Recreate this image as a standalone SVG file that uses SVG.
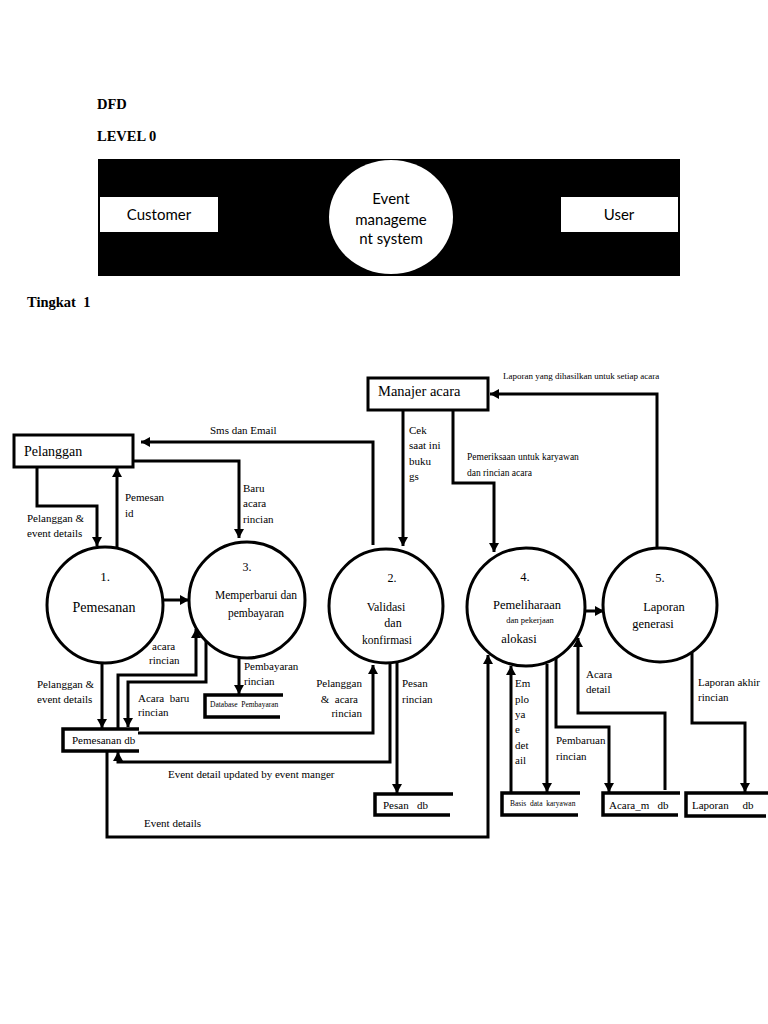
<svg xmlns="http://www.w3.org/2000/svg" width="768" height="1024" viewBox="0 0 768 1024">
<defs>
<marker id="ah" markerUnits="userSpaceOnUse" markerWidth="9" markerHeight="10" refX="9" refY="5" orient="auto">
<path d="M0,0 L9,5 L0,10 z" fill="#000"/>
</marker>
<style>
text{white-space:pre}
.t{font-family:"Liberation Serif","Times New Roman",serif;fill:#000}
.h{font-family:"Liberation Serif","Times New Roman",serif;font-weight:bold;font-size:14.5px}
.s{font-family:Lato,"Open Sans",sans-serif;font-size:15px;fill:#000}
.lb{font-size:11px}
.c{text-anchor:middle}
.ln{fill:none;stroke:#000;stroke-width:3}
.ar{marker-end:url(#ah)}
.bx{fill:#fff;stroke:#000;stroke-width:3}
.pc{fill:#fff;stroke:#000;stroke-width:3}
.ds{fill:none;stroke:#000;stroke-width:3.5}
</style>
</defs>
<rect width="768" height="1024" fill="#fff"/>

<g id="titles">
<text class="h" x="97" y="109">DFD</text>
<text class="h" x="97" y="141">LEVEL 0</text>
<text class="h" x="27" y="307">Tingkat  1</text>
</g>

<g id="level0">
<rect x="98" y="159" width="582" height="117" fill="#000"/>
<g id="l0-customer">
<rect x="100" y="197" width="118" height="35" fill="#fff"/>
<text class="s c" x="159" y="220">Customer</text>
</g>
<g id="l0-system">
<ellipse cx="391" cy="217" rx="62" ry="57" fill="#fff"/>
<text class="s c" x="391" y="204">Event</text>
<text class="s c" x="391" y="225">manageme</text>
<text class="s c" x="391" y="244">nt system</text>
</g>
<g id="l0-user">
<rect x="561" y="197" width="117" height="35" fill="#fff"/>
<text class="s c" x="619" y="220">User</text>
</g>
</g>

<g id="connectors">
<path class="ln ar" d="M373,545 V442 H141"/>
<path class="ln ar" d="M133,461 H239 V538"/>
<path class="ln ar" d="M37,467 V506 H97 V546"/>
<path class="ln ar" d="M117,547 V468"/>
<path class="ln ar" d="M403,410 V546"/>
<path class="ln ar" d="M453,410 V483 H494 V552"/>
<path class="ln ar" d="M657,547 V394 H490"/>
<path class="ln ar" d="M163,600 H189"/>
<path class="ln ar" d="M585,611 H604"/>
<path class="ln ar" d="M102,664 V728"/>
<path class="ln ar" d="M118,729 V675 H196 V629"/>
<path class="ln ar" d="M206,640 V682 H128 V727"/>
<path class="ln ar" d="M239,658 V694"/>
<path class="ln ar" d="M138,733 H373 V665"/>
<path class="ln ar" d="M390,662 V762 H118 V752"/>
<path class="ln ar" d="M397,662 V793"/>
<path class="ln ar" d="M107,751 V837 H488 V655"/>
<path class="ln ar" d="M511,793 V666"/>
<path class="ln ar" d="M547,664 V792"/>
<path class="ln ar" d="M556,658 V727 H609 V792"/>
<path class="ln ar" d="M665,790 V713 H578 V638"/>
<path class="ln ar" d="M692,653 V723 H745 V792"/>

<text class="t lb" x="210" y="434">Sms dan Email</text>
<text class="t lb" x="243" y="492">Baru</text>
<text class="t lb" x="243" y="507">acara</text>
<text class="t lb" x="243" y="523">rincian</text>
<text class="t lb" x="27" y="522">Pelanggan &amp;</text>
<text class="t lb" x="27" y="537">event details</text>
<text class="t lb" x="125" y="501">Pemesan</text>
<text class="t lb" x="125" y="517">id</text>
<text class="t lb" x="409" y="434">Cek</text>
<text class="t lb" x="409" y="449">saat ini</text>
<text class="t lb" x="409" y="465">buku</text>
<text class="t lb" x="409" y="480">gs</text>
<text class="t" font-size="9.5" x="467" y="460">Pemeriksaan untuk karyawan</text>
<text class="t" font-size="9.5" x="467" y="476">dan rincian acara</text>
<text class="t" font-size="9" x="503" y="379">Laporan yang dihasilkan untuk setiap acara</text>
<text class="t lb" x="152" y="650">acara</text>
<text class="t lb" x="149" y="664">rincian</text>
<text class="t lb" x="37" y="688">Pelanggan &amp;</text>
<text class="t lb" x="37" y="703">event details</text>
<text class="t lb" x="138" y="702">Acara  baru</text>
<text class="t lb" x="138" y="716">rincian</text>
<text class="t lb" x="244" y="670">Pembayaran</text>
<text class="t lb" x="244" y="685">rincian</text>
<text class="t lb" x="362" y="687" text-anchor="end">Pelanggan</text>
<text class="t lb" x="358" y="703" text-anchor="end">&amp;  acara</text>
<text class="t lb" x="362" y="717" text-anchor="end">rincian</text>
<text class="t lb" x="402" y="687">Pesan</text>
<text class="t lb" x="402" y="703">rincian</text>
<text class="t lb" x="168" y="778">Event detail updated by event manger</text>
<text class="t lb" x="144" y="827">Event details</text>
<text class="t lb" x="515" y="687">Em</text>
<text class="t lb" x="515" y="703">plo</text>
<text class="t lb" x="515" y="718">ya</text>
<text class="t lb" x="515" y="733">e</text>
<text class="t lb" x="515" y="749">det</text>
<text class="t lb" x="515" y="764">ail</text>
<text class="t lb" x="556" y="744">Pembaruan</text>
<text class="t lb" x="556" y="760">rincian</text>
<text class="t lb" x="586" y="678">Acara</text>
<text class="t lb" x="586" y="693">detail</text>
<text class="t lb" x="698" y="686">Laporan akhir</text>
<text class="t lb" x="698" y="701">rincian</text>
</g>

<g id="pelanggan">
<rect class="bx" x="14" y="435" width="119" height="32"/>
<text class="t" font-size="14" x="24" y="456">Pelanggan</text>
</g>
<g id="manajer-acara">
<rect class="bx" x="368" y="378" width="120" height="32"/>
<text class="t" font-size="14.5" x="378" y="396">Manajer acara</text>
</g>

<g id="p1">
<circle class="pc" cx="105" cy="605" r="58"/>
<text class="t c" font-size="13" x="105" y="581">1.</text>
<text class="t c" font-size="14" x="104" y="612">Pemesanan</text>
</g>
<g id="p3">
<circle class="pc" cx="247" cy="600" r="58"/>
<text class="t c" font-size="12" x="247" y="571">3.</text>
<text class="t c" font-size="11.5" x="256" y="599">Memperbarui dan</text>
<text class="t c" font-size="11.5" x="256" y="617">pembayaran</text>
</g>
<g id="p2">
<circle class="pc" cx="386" cy="606" r="57"/>
<text class="t c" font-size="12" x="392" y="582">2.</text>
<text class="t c" font-size="12" x="386" y="611">Validasi</text>
<text class="t c" font-size="12" x="393" y="627">dan</text>
<text class="t c" font-size="11.5" x="387" y="644">konfirmasi</text>
</g>
<g id="p4">
<circle class="pc" cx="526" cy="607" r="59"/>
<text class="t c" font-size="12.5" x="525" y="581">4.</text>
<text class="t c" font-size="12.5" x="527" y="609">Pemeliharaan</text>
<text class="t c" font-size="8.5" x="530" y="623">dan pekerjaan</text>
<text class="t c" font-size="12.5" x="519" y="643">alokasi</text>
</g>
<g id="p5">
<circle class="pc" cx="660" cy="605" r="57"/>
<text class="t c" font-size="12.5" x="660" y="582">5.</text>
<text class="t c" font-size="12.5" x="664" y="611">Laporan</text>
<text class="t c" font-size="12.5" x="653" y="628">generasi</text>
</g>

<g id="pemesanan-db">
<path class="ds" d="M139,729 H63 V751 H139"/>
<text class="t lb" x="72" y="744">Pemesanan db</text>
</g>
<g id="database-pembayaran">
<path class="ds" d="M283,695 H205 V717 H280"/>
<text class="t" font-size="7.5" x="210" y="707">Database  Pembayaran</text>
</g>
<g id="pesan-db">
<path class="ds" d="M453,794 H375 V815 H450"/>
<text class="t lb" x="383" y="809">Pesan   db</text>
</g>
<g id="basis-data-karyawan">
<path class="ds" d="M580,793 H502 V815 H578"/>
<text class="t" font-size="7.5" x="510" y="806">Basis  data  karyawan</text>
</g>
<g id="acara-m-db">
<path class="ds" d="M680,793 H603 V815 H678"/>
<text class="t lb" x="609" y="809">Acara_m   db</text>
</g>
<g id="laporan-db">
<path class="ds" d="M768,793 H686 V816 H766"/>
<text class="t lb" x="692" y="809">Laporan     db</text>
</g>
</svg>
